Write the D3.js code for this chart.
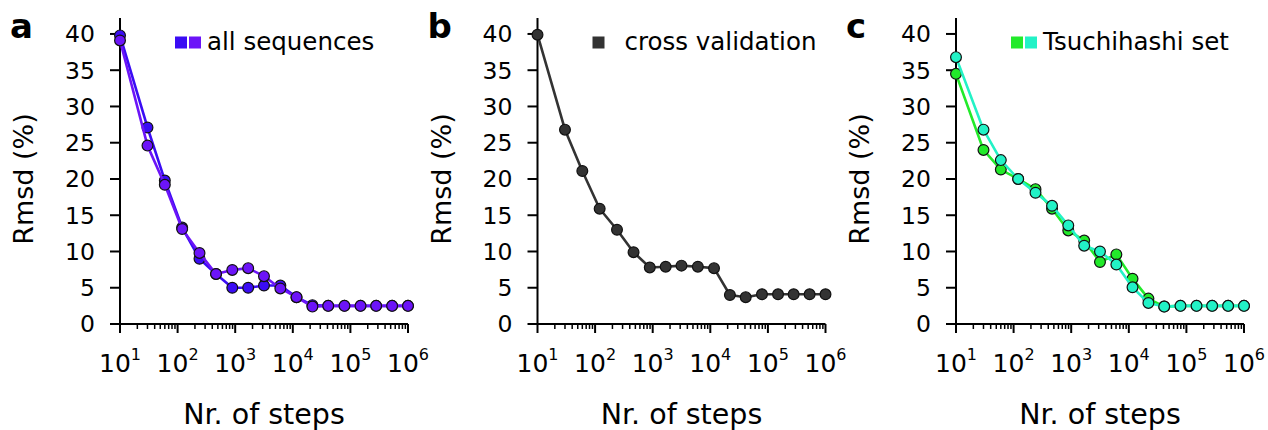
<!DOCTYPE html>
<html>
<head>
<meta charset="utf-8">
<script src="https://cdn.jsdelivr.net/npm/d3@7"></script>
<style>
  body { margin: 0; background: #fff; }
  text { font-family: "DejaVu Sans", sans-serif; fill: #000; }
</style>
</head>
<body>
<svg id="chart" width="1268" height="430"></svg>
<script>
// data
var steps = [10, 30, 60, 120, 240, 465, 890, 1680, 3160, 6080, 11600, 21900, 41200, 78900, 150000, 280000, 530000, 1000000];
var yTicks = [0, 5, 10, 15, 20, 25, 30, 35, 40];
var xTicks = [1e1, 1e2, 1e3, 1e4, 1e5, 1e6];

var allSeqBlue   = [39.8, 27.1, 19.8, 13.3, 9.0, 6.9, 5.0, 5.0, 5.3, 5.3, 3.7, 2.6, 2.5, 2.5, 2.5, 2.5, 2.5, 2.5];
var allSeqPurple = [39.1, 24.6, 19.2, 13.1, 9.8, 6.9, 7.45, 7.7, 6.6, 4.9, 3.7, 2.4, 2.5, 2.5, 2.5, 2.5, 2.5, 2.5];
var crossVal     = [39.9, 26.8, 21.1, 15.9, 13.0, 9.9, 7.8, 7.9, 8.05, 7.9, 7.7, 4.0, 3.7, 4.1, 4.1, 4.1, 4.1, 4.1];
var tsuGreen     = [34.5, 24.0, 21.3, 20.0, 18.6, 15.9, 12.9, 11.5, 8.55, 9.6, 6.25, 3.5, 2.4, 2.5, 2.5, 2.5, 2.5, 2.5];
var tsuCyan      = [36.8, 26.8, 22.6, 20.0, 18.1, 16.3, 13.6, 10.8, 10.0, 8.2, 5.06, 2.9, 2.4, 2.5, 2.5, 2.5, 2.5, 2.5];

var panels = [
  { letter: "a", left: 120, label: "all sequences",
    series: [{ values: allSeqBlue, color: "#3a0cf4" }, { values: allSeqPurple, color: "#6c14f8" }] },
  { letter: "b", left: 537.5, label: "cross validation",
    series: [{ values: crossVal, color: "#333333" }] },
  { letter: "c", left: 956, label: "Tsuchihashi set",
    series: [{ values: tsuGreen, color: "#22ea2a" }, { values: tsuCyan, color: "#22f2c6" }] }
];

var width = 288, plotTop = 18, plotBottom = 324;
var svg = d3.select("#chart");

var x = d3.scaleLog().domain([10, 1e6]).range([0, width]);
var y = d3.scaleLinear().domain([0, 42.2]).range([plotBottom, plotTop]);

var minor = [];
for (var k = 1; k < 6; k++) {
  for (var m = 2; m < 10; m++) minor.push(m * Math.pow(10, k));
}

panels.forEach(function (p) {
  var g = svg.append("g").attr("transform", "translate(" + p.left + ",0)");

  // panel letter
  svg.append("text")
    .attr("x", p.left - 110).attr("y", 38)
    .style("font-size", "34px").style("font-weight", "bold")
    .text(p.letter);

  // y axis
  g.append("line").attr("x1", 0).attr("x2", 0).attr("y1", plotTop).attr("y2", plotBottom)
    .attr("stroke", "#000").attr("stroke-width", 2);
  g.selectAll(".ytick").data(yTicks).enter().append("line")
    .attr("x1", -10).attr("x2", 0)
    .attr("y1", function (d) { return y(d); }).attr("y2", function (d) { return y(d); })
    .attr("stroke", "#000").attr("stroke-width", 2);
  g.selectAll(".ylab").data(yTicks).enter().append("text")
    .attr("x", -25).attr("y", function (d) { return y(d); })
    .attr("dy", "0.36em")
    .attr("text-anchor", "end")
    .style("font-size", "23.5px")
    .text(function (d) { return d; });

  // x axis
  g.append("line").attr("x1", 0).attr("x2", width).attr("y1", plotBottom).attr("y2", plotBottom)
    .attr("stroke", "#000").attr("stroke-width", 2);
  g.selectAll(".xminor").data(minor).enter().append("line")
    .attr("x1", function (d) { return x(d); }).attr("x2", function (d) { return x(d); })
    .attr("y1", plotBottom).attr("y2", plotBottom + 5)
    .attr("stroke", "#000").attr("stroke-width", 1.5);
  g.selectAll(".xmajor").data(xTicks).enter().append("line")
    .attr("x1", function (d) { return x(d); }).attr("x2", function (d) { return x(d); })
    .attr("y1", plotBottom).attr("y2", plotBottom + 9)
    .attr("stroke", "#000").attr("stroke-width", 2);
  var xl = g.selectAll(".xlab").data(xTicks).enter().append("text")
    .attr("x", function (d) { return x(d); }).attr("y", 372)
    .attr("text-anchor", "middle")
    .style("font-size", "25px");
  xl.append("tspan").text("10");
  xl.append("tspan").attr("dy", -12).style("font-size", "16px")
    .text(function (d) { return Math.round(Math.log10(d)); });

  // axis titles
  g.append("text")
    .attr("x", width / 2).attr("y", 424)
    .attr("text-anchor", "middle")
    .style("font-size", "28.5px")
    .text("Nr. of steps");
  g.append("text")
    .attr("transform", "translate(-87," + ((plotBottom + 34) / 2) + ") rotate(-90)")
    .attr("text-anchor", "middle")
    .style("font-size", "27px")
    .text("Rmsd (%)");

  // data
  var line = d3.line()
    .x(function (d, i) { return x(steps[i]); })
    .y(function (d) { return y(d); });

  p.series.forEach(function (s) {
    g.append("path")
      .datum(s.values)
      .attr("fill", "none")
      .attr("stroke", s.color)
      .attr("stroke-width", 2.6)
      .attr("stroke-linejoin", "round")
      .attr("d", line);
    g.selectAll(null).data(s.values).enter().append("circle")
      .attr("cx", function (d, i) { return x(steps[i]); })
      .attr("cy", function (d) { return y(d); })
      .attr("r", 5.4)
      .attr("fill", s.color)
      .attr("stroke", "#111")
      .attr("stroke-width", 1.2);
  });

  // legend
  p.series.forEach(function (s, i) {
    g.append("rect")
      .attr("x", 55 + i * 14).attr("y", 36.5)
      .attr("width", 12).attr("height", 12)
      .attr("fill", s.color);
  });
  g.append("text")
    .attr("x", 87).attr("y", 50)
    .style("font-size", "24.5px")
    .text(p.label);
});
</script>
</body>
</html>
